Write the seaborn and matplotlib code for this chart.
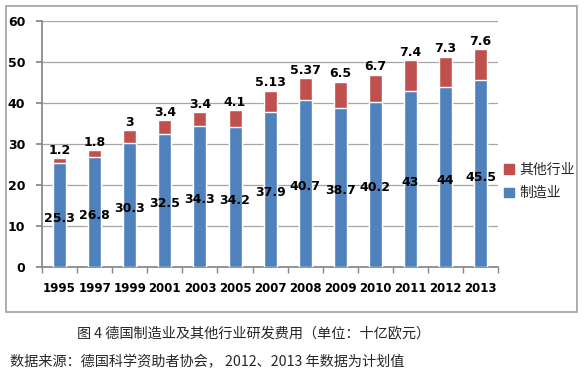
import matplotlib.pyplot as plt
import matplotlib.patches as mpatches
import numpy as np
import pandas as pd
import seaborn as sns

# data (unit: billion euro)
years = ["1995", "1997", "1999", "2001", "2003", "2005", "2007",
         "2008", "2009", "2010", "2011", "2012", "2013"]
manufacturing = [25.3, 26.8, 30.3, 32.5, 34.3, 34.2, 37.9,
                 40.7, 38.7, 40.2, 43, 44, 45.5]
other = [1.2, 1.8, 3, 3.4, 3.4, 4.1, 5.13,
         5.37, 6.5, 6.7, 7.4, 7.3, 7.6]
other_labels = ["1.2", "1.8", "3", "3.4", "3.4", "4.1", "5.13",
                "5.37", "6.5", "6.7", "7.4", "7.3", "7.6"]
mfg_labels = ["25.3", "26.8", "30.3", "32.5", "34.3", "34.2", "37.9",
              "40.7", "38.7", "40.2", "43", "44", "45.5"]

blue = "#4F81BD"
red = "#C0504D"

sns.set_theme(style="white")
plt.rcParams['font.family'] = ['DejaVu Sans', 'Noto Sans CJK SC']
cjk = ['Noto Sans CJK SC', 'DejaVu Sans']

df = pd.DataFrame({"year": years, "manufacturing": manufacturing, "other": other})
df["total"] = df["manufacturing"] + df["other"]

fig = plt.figure(figsize=(5.84, 3.75), dpi=100)
ax = fig.add_axes([0.072, 0.288, 0.781, 0.656])

# stacked bars: total in red, manufacturing drawn over it in blue
sns.barplot(data=df, x="year", y="total", color=red, width=0.37,
            saturation=1, ax=ax, zorder=3)
sns.barplot(data=df, x="year", y="manufacturing", color=blue, width=0.37,
            saturation=1, ax=ax, zorder=4)

for i in range(len(years)):
    ax.text(i, df["total"][i] + 0.3, other_labels[i], ha="center", va="bottom",
            fontsize=9, fontweight="bold", color="black", zorder=6)
    ax.text(i, manufacturing[i] / 2 - 0.8, mfg_labels[i], ha="center", va="center",
            fontsize=9, fontweight="bold", color="black", zorder=6)

ax.set_ylim(0, 60)
ax.set_xlim(-0.5, len(years) - 0.5)
ax.set_yticks(range(0, 61, 10))
ax.yaxis.grid(True, color="#A6A6A6", linewidth=0.9, zorder=0)
ax.set_axisbelow(True)
ax.set_xlabel("")
ax.set_ylabel("")
for s in ["top", "right"]:
    ax.spines[s].set_visible(False)
for s in ["left", "bottom"]:
    ax.spines[s].set_color("#868686")
ax.tick_params(axis="x", length=0, pad=11, labelsize=8.5, labelcolor="black")
ax.tick_params(axis="y", length=4, color="#868686", direction="out",
               left=True, pad=8, labelsize=9, labelcolor="black")
ax.set_xticks(np.arange(-0.5, len(years), 1), minor=True)
ax.tick_params(axis="x", which="minor", length=4, color="#868686",
               direction="out", bottom=True)
for lab in ax.get_xticklabels() + ax.get_yticklabels():
    lab.set_fontweight("bold")

handles = [mpatches.Patch(color=red, label="其他行业"),
           mpatches.Patch(color=blue, label="制造业")]
fig.legend(handles=handles, loc="upper left", bbox_to_anchor=(0.842, 0.6),
           frameon=False, prop={"family": cjk, "size": 10},
           handlelength=0.7, handleheight=0.7, handletextpad=0.4,
           labelspacing=0.7)

# outer frame
fig.patches.append(mpatches.Rectangle((6 / 584, 1 - 312 / 375), 571 / 584,
                                      306 / 375, transform=fig.transFigure,
                                      fill=False, edgecolor="#A0A0A0",
                                      linewidth=1.2))

fig.text(254 / 584, 1 - 333 / 375, "图 4 德国制造业及其他行业研发费用（单位：十亿欧元）",
         ha="center", va="center", fontsize=10.2, family=cjk)
fig.text(10 / 584, 1 - 362 / 375, "数据来源：德国科学资助者协会， 2012、2013 年数据为计划值",
         ha="left", va="center", fontsize=10.2, family=cjk)

fig.savefig("out.png", dpi=100)
